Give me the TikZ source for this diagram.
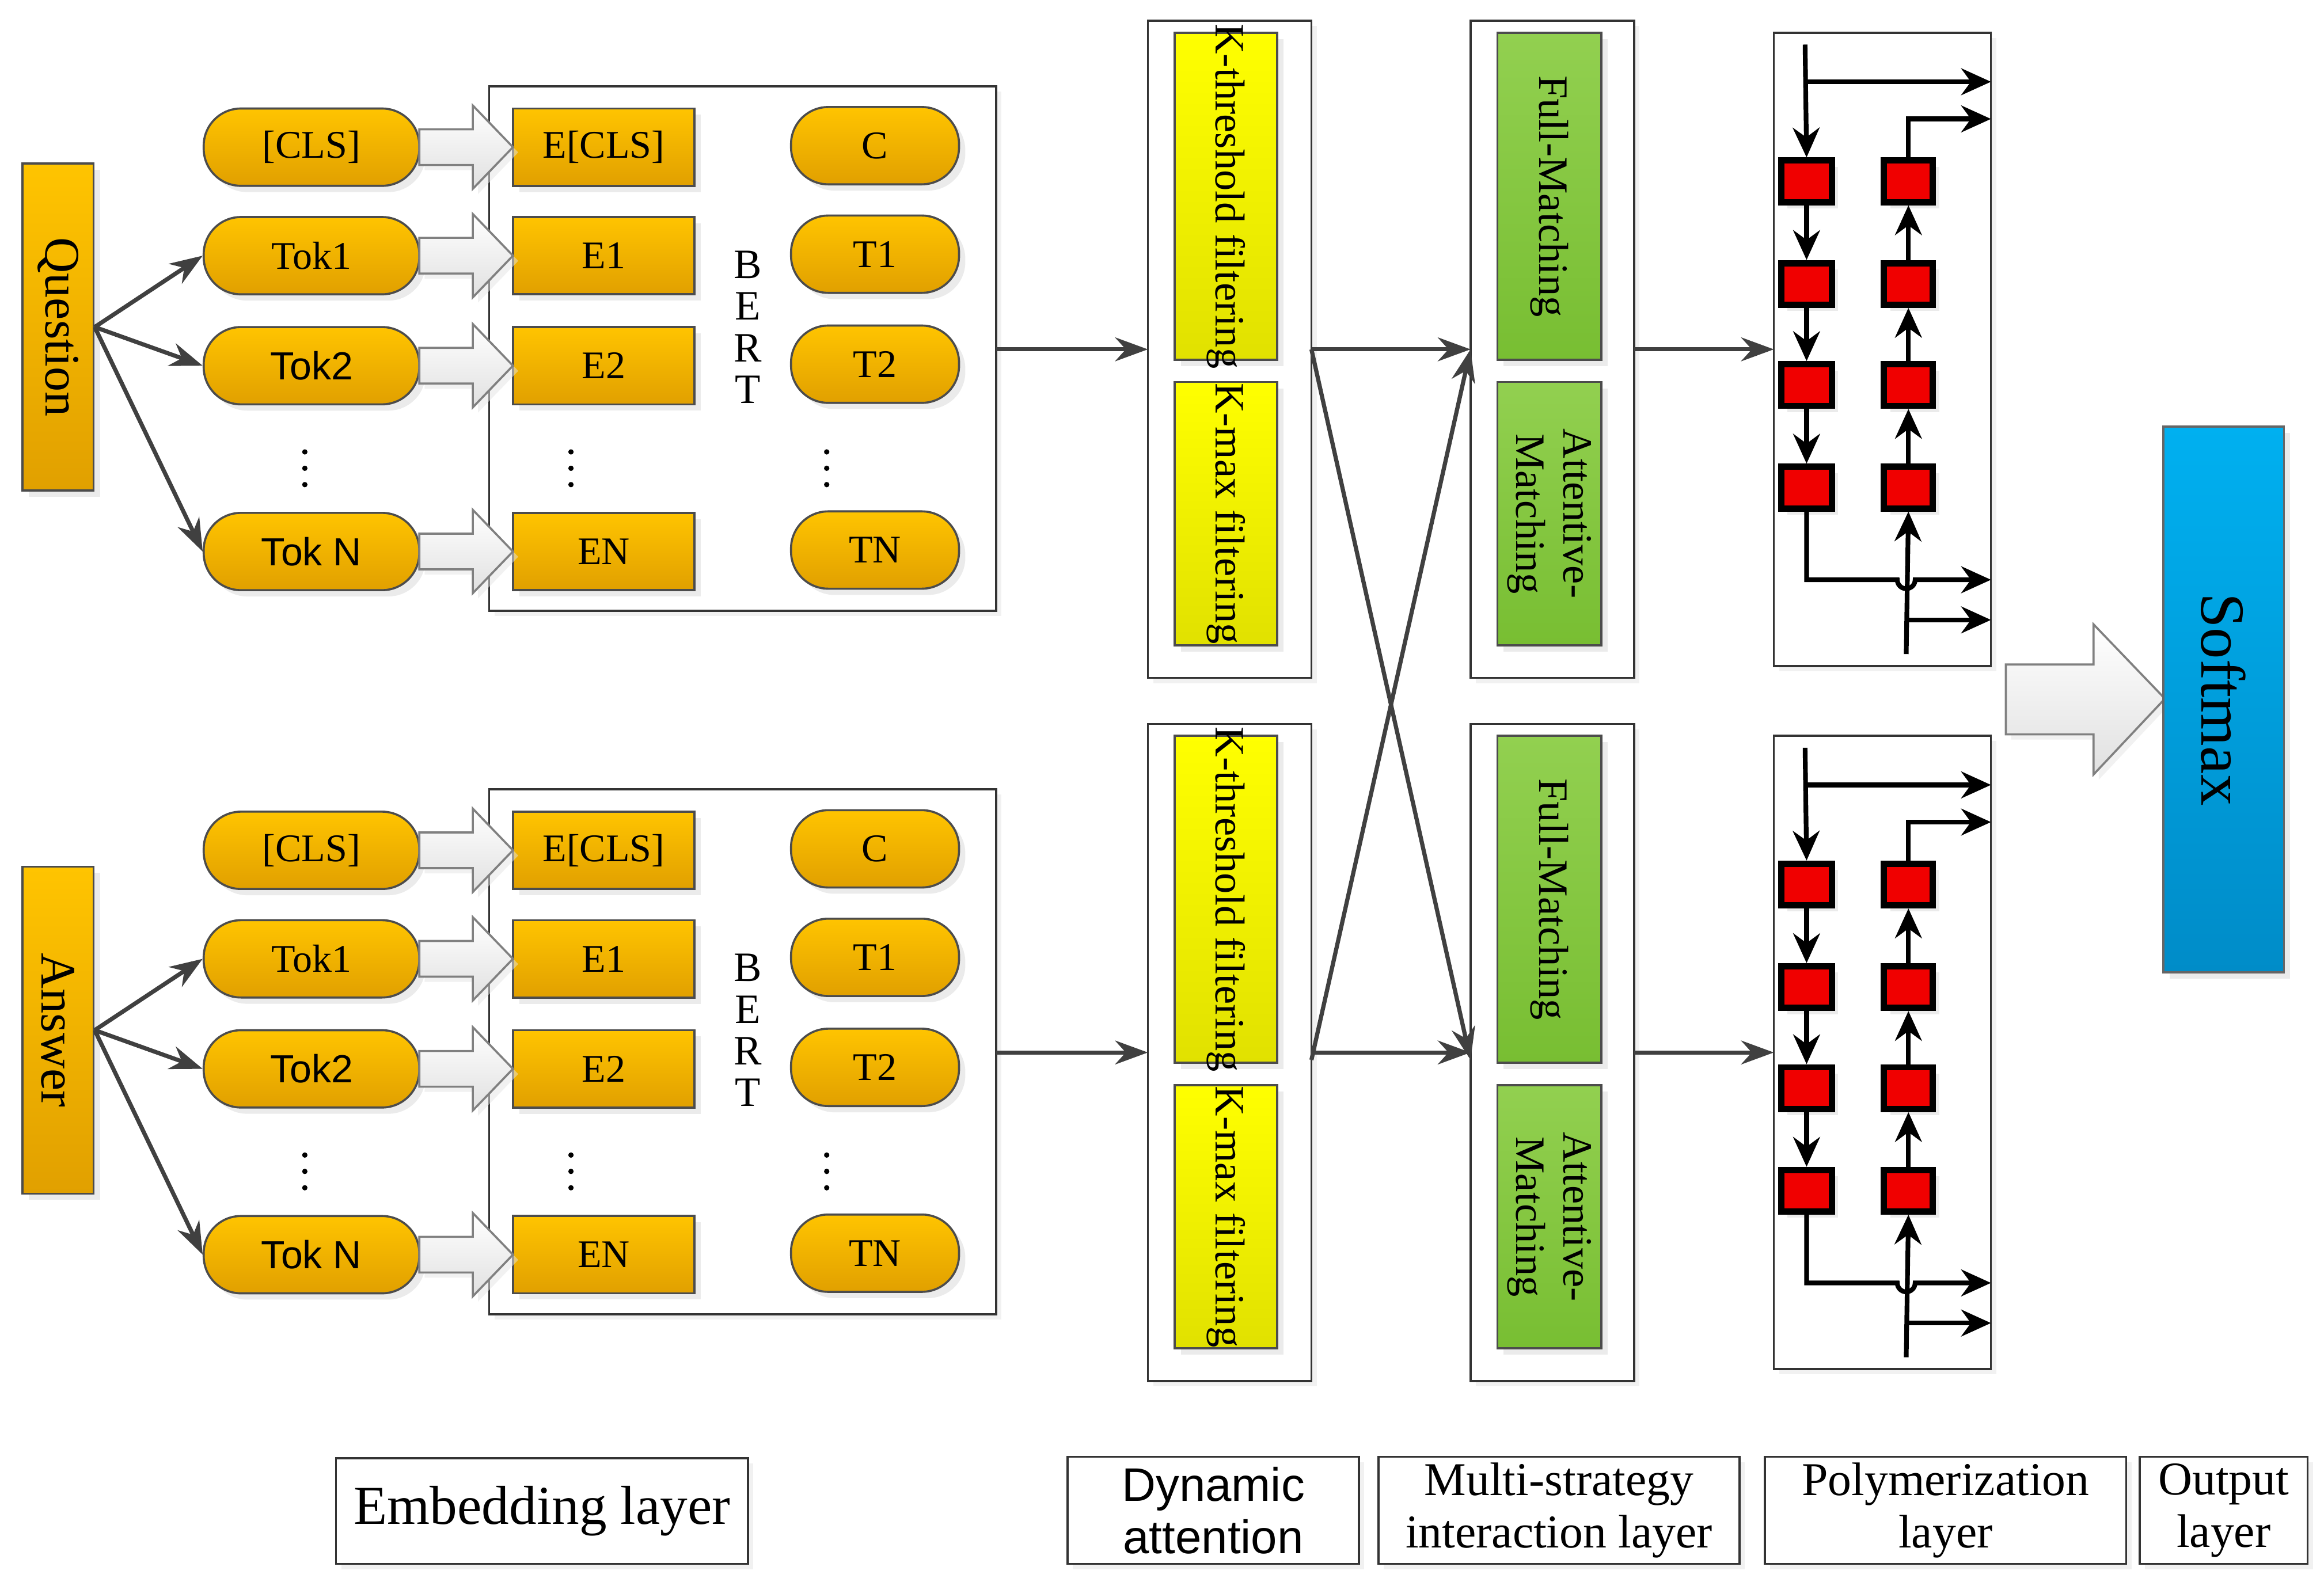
\documentclass[tikz,border=0pt]{standalone}
\usepackage{fontspec}
\setmainfont{Liberation Serif}
\setsansfont{Liberation Sans}
\usetikzlibrary{shadows,arrows.meta}
\newcommand\bx[7]{\node[#6,inner sep=0pt,minimum width={((#4)-(#2))*0.1mm},minimum height={((#5)-(#3))*0.1mm}] (#1) at ({((#2)+(#4))/2},{((#3)+(#5))/2}) {#7};}
\begin{document}
\begin{tikzpicture}[x=0.1mm,y=-0.1mm,
 q/.style={draw=black!70,top color={rgb,255:red,255;green,196;blue,0},bottom color={rgb,255:red,225;green,160;blue,0},drop shadow={shadow xshift=1.2pt,shadow yshift=-1.2pt,fill=black!15}},
 pill/.style={q,rounded corners=2.5mm,font=\fontsize{7.5}{9}\selectfont},
 ebox/.style={q,font=\fontsize{7.5}{9}\selectfont},
 frame/.style={draw=black!80,line width=0.4pt,drop shadow={shadow xshift=1pt,shadow yshift=-1pt,fill=black!10}},
 yel/.style={draw=black!70,top color=yellow,bottom color={rgb,255:red,225;green,225;blue,0},drop shadow={shadow xshift=1.2pt,shadow yshift=-1.2pt,fill=black!15}},
 grn/.style={draw=black!70,top color={rgb,255:red,146;green,208;blue,80},bottom color={rgb,255:red,120;green,190;blue,50},drop shadow={shadow xshift=1.2pt,shadow yshift=-1.2pt,fill=black!15}},
 red/.style={draw=black,line width=1.2pt,fill={rgb,255:red,240;green,0;blue,0},drop shadow={shadow xshift=1.2pt,shadow yshift=-1.2pt,fill=black!15}},
 rt/.style={rotate=-90,font=\fontsize{8}{9}\selectfont,align=center},
 lab/.style={draw=black!80,font=\fontsize{9}{10}\selectfont,align=center,drop shadow={shadow xshift=1pt,shadow yshift=-1pt,fill=black!10},fill=white},
 ar/.style={draw=black!75,line width=0.8pt,-{Stealth[length=2.2mm,width=1.6mm]}},
 bk/.style={draw=black,line width=0.9pt,-{Stealth[length=2mm,width=1.8mm]}},
 bigar/.style={draw=black!50,top color=white,bottom color=black!12,drop shadow={shadow xshift=1pt,shadow yshift=-1pt,fill=black!10}}
]
\useasboundingbox (0,0) rectangle (1563,1064);
\fill[white] (0,0) rectangle (1563,1064);

\foreach \o/\nm/\T in {0/q/Question,473/a/Answer}{
 \begin{scope}[yshift={-\o*0.1mm}]
 \bx{\nm box}{329}{58}{670}{411}{frame,fill=white}{}
 \bx{\nm Q}{15}{110}{63}{330}{q}{}
 \node[rt,font=\fontsize{9.5}{11}\selectfont] at (\nm Q) {\T};
 \foreach \i/\y/\t/\e/\c in {1/99/{[CLS]}/{E[CLS]}/C,2/172/Tok1/E1/T1,3/246/{\textsf{Tok2}}/E2/T2,4/371/{\textsf{Tok N}}/EN/TN}{
  \bx{\nm p\i}{137}{\y-26}{282}{\y+26}{pill}{\t}
  \bx{\nm e\i}{345}{\y-26}{467}{\y+26}{ebox}{\e}
  \bx{\nm c\i}{532}{\y-27}{645}{\y+25}{pill}{\c}
  \draw[bigar] (282,\y-12)--(318,\y-12)--(318,\y-28)--(345,\y)--(318,\y+28)--(318,\y+12)--(282,\y+12)--cycle;
 }
 \foreach \i in {2,3,4}{\draw[ar] (\nm Q.east) -- (\nm p\i.west);}
 \foreach \xx in {205,384,556}{\foreach \dy in {-11,0,11}{\fill (\xx,{315+\dy}) circle (1.8);}}
 \foreach \L/\y in {B/178,E/206,R/234,T/262}{\node[font=\fontsize{8}{9}\selectfont] at (503,\y) {\L};}
 \bx{\nm da}{772}{14}{882}{456}{frame,fill=white}{}
 \bx{\nm y1}{790}{22}{859}{242}{yel}{}
 \bx{\nm y2}{790}{257}{859}{434}{yel}{}
 \node[rt] at (\nm y1) {K-threshold filtering};
 \node[rt] at (\nm y2) {K-max filtering};
 \bx{\nm ms}{989}{14}{1099}{456}{frame,fill=white}{}
 \bx{\nm g1}{1007}{22}{1077}{242}{grn}{}
 \bx{\nm g2}{1007}{257}{1077}{434}{grn}{}
 \node[rt] at (\nm g1) {Full-Matching};
 \node[rt] at (\nm g2) {Attentive-\\Matching};
 \coordinate (\nm in) at (670,235);
 \coordinate (\nm dain) at (772,235);
 \coordinate (\nm daout) at (882,235);
 \coordinate (\nm msin) at (989,235);
 \coordinate (\nm msout) at (1099,235);
 \coordinate (\nm pin) at (1193,235);
 \draw[ar] (\nm in) -- (\nm dain);
 \draw[ar] (\nm daout) -- (\nm msin);
 \draw[ar] (\nm msout) -- (\nm pin);
 \bx{\nm pb}{1193}{22}{1339}{448}{frame,fill=white}{}
 \foreach \j/\y in {1/122,2/191,3/259,4/328}{
  \bx{\nm L\j}{1198}{\y-14}{1232}{\y+14}{red}{}
  \bx{\nm R\j}{1267}{\y-14}{1300}{\y+14}{red}{}
 }
 \coordinate (\nm t0) at (1214,30);
 \coordinate (\nm b0) at (1282,440);
 \draw[bk] (\nm t0) -- (\nm L1.north);
 \draw[bk] (1214,55) -- (1339,55);
 \foreach \a/\b in {1/2,2/3,3/4}{\draw[bk] (\nm L\a.south) -- (\nm L\b.north); \draw[bk] (\nm R\b.north) -- (\nm R\a.south);}
 \draw[bk] (\nm R1.north) |- (1339,80);
 \draw[bk] (\nm b0) -- (\nm R4.south);
 \draw[bk] (\nm L4.south) |- (1276,390) arc (180:0:6) -- (1339,390);
 \draw[bk] (1282,417) -- (1339,417);
 \end{scope}
}
\draw[ar] (qdaout) -- (989,713);
\draw[ar] (882,713) -- (qmsin);
\draw[bigar] (1349,447)--(1408,447)--(1408,420)--(1456,470)--(1408,521)--(1408,494)--(1349,494)--cycle;
\bx{soft}{1455}{287}{1536}{654}{draw=black!60,top color={rgb,255:red,0;green,176;blue,240},bottom color={rgb,255:red,0;green,140;blue,200},drop shadow={shadow xshift=1.2pt,shadow yshift=-1.2pt,fill=black!15}}{}
\node[rotate=-90,font=\fontsize{12}{13}\selectfont] at (soft) {Softmax};
\bx{l1}{226}{981}{503}{1052}{lab}{\fontsize{10.5}{12}\selectfont Embedding layer}
\bx{l2}{718}{980}{914}{1052}{lab}{\sffamily Dynamic\\ \sffamily attention}
\bx{l3}{927}{980}{1170}{1052}{lab}{Multi-strategy\\interaction layer}
\bx{l4}{1187}{980}{1430}{1052}{lab}{Polymerization\\layer}
\bx{l5}{1439}{980}{1552}{1052}{lab}{Output\\layer}
\end{tikzpicture}
\end{document}
